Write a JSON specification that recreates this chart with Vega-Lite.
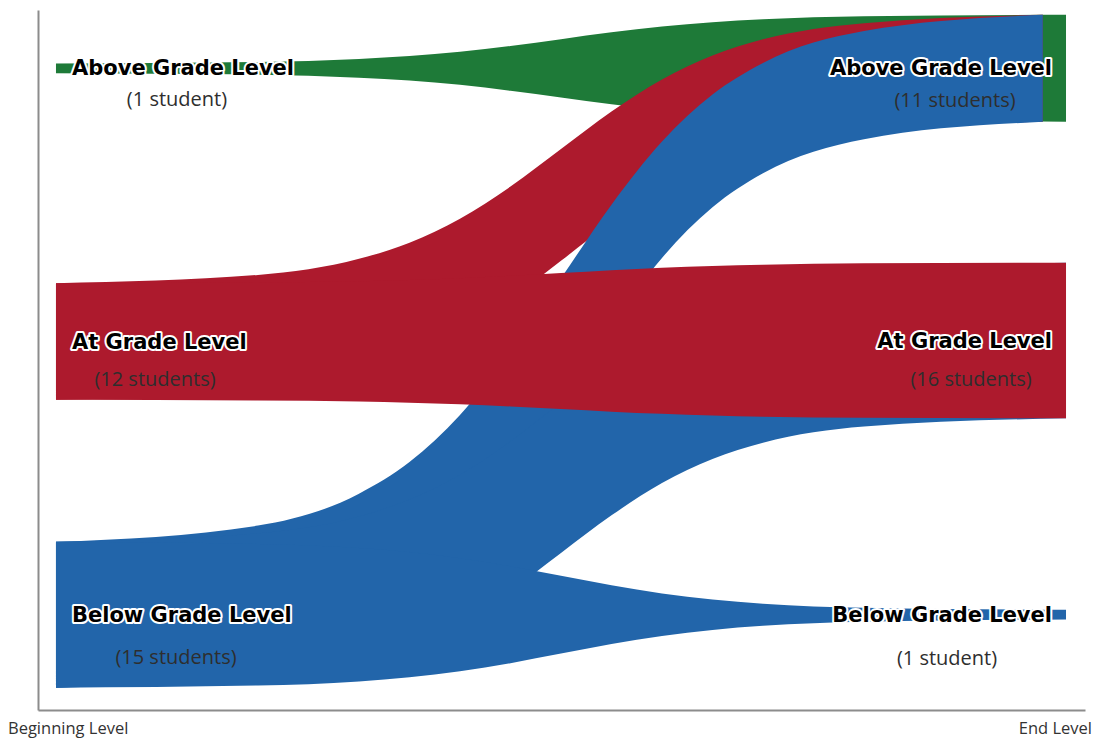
{
  "$schema": "https://vega.github.io/schema/vega-lite/v6.json",
  "width": 1047,
  "height": 700,
  "autosize": "none",
  "padding": {"left": 38, "top": 10, "right": 11, "bottom": 30},
  "background": "white",
  "config": {
    "view": {"stroke": null},
    "axis": {"title": null, "domain": true, "domainColor": "#8c8c8c", "domainWidth": 2, "ticks": false, "labels": false, "grid": false}
  },
  "datasets": {
    "flows": [
      {"flow": "AA", "x": 0, "top": 66.5, "bottom": 65.5},
      {"flow": "AA", "x": 0.2, "top": 66.65, "bottom": 65.35},
      {"flow": "AA", "x": 0.3, "top": 66.96, "bottom": 65.04},
      {"flow": "AA", "x": 0.35, "top": 67.26, "bottom": 64.74},
      {"flow": "AA", "x": 0.4, "top": 67.7, "bottom": 64.3},
      {"flow": "AA", "x": 0.45, "top": 68.3, "bottom": 63.7},
      {"flow": "AA", "x": 0.5, "top": 69.0, "bottom": 63.0},
      {"flow": "AA", "x": 0.55, "top": 69.7, "bottom": 62.3},
      {"flow": "AA", "x": 0.6, "top": 70.3, "bottom": 61.7},
      {"flow": "AA", "x": 0.65, "top": 70.74, "bottom": 61.26},
      {"flow": "AA", "x": 0.7, "top": 71.04, "bottom": 60.96},
      {"flow": "AA", "x": 0.8, "top": 71.35, "bottom": 60.65},
      {"flow": "AA", "x": 1, "top": 71.5, "bottom": 60.5},

      {"flow": "TA", "x": 0, "top": 43.9, "bottom": 31.9},
      {"flow": "TA", "x": 0.2, "top": 44.75, "bottom": 32.78},
      {"flow": "TA", "x": 0.3, "top": 46.41, "bottom": 34.51},
      {"flow": "TA", "x": 0.35, "top": 48.07, "bottom": 36.22},
      {"flow": "TA", "x": 0.4, "top": 50.54, "bottom": 38.78},
      {"flow": "TA", "x": 0.45, "top": 53.84, "bottom": 42.2},
      {"flow": "TA", "x": 0.5, "top": 57.7, "bottom": 46.2},
      {"flow": "TA", "x": 0.55, "top": 61.56, "bottom": 50.2},
      {"flow": "TA", "x": 0.6, "top": 64.86, "bottom": 53.62},
      {"flow": "TA", "x": 0.65, "top": 67.33, "bottom": 56.18},
      {"flow": "TA", "x": 0.7, "top": 68.99, "bottom": 57.9},
      {"flow": "TA", "x": 0.8, "top": 70.65, "bottom": 59.62},
      {"flow": "TA", "x": 0.977, "top": 71.5, "bottom": 60.5},

      {"flow": "BA", "x": 0, "top": 17.3, "bottom": 2.3},
      {"flow": "BA", "x": 0.2, "top": 18.97, "bottom": 4.09},
      {"flow": "BA", "x": 0.3, "top": 22.24, "bottom": 7.6},
      {"flow": "BA", "x": 0.35, "top": 25.5, "bottom": 11.1},
      {"flow": "BA", "x": 0.4, "top": 30.34, "bottom": 16.3},
      {"flow": "BA", "x": 0.45, "top": 36.82, "bottom": 23.26},
      {"flow": "BA", "x": 0.5, "top": 44.4, "bottom": 31.4},
      {"flow": "BA", "x": 0.55, "top": 51.98, "bottom": 39.54},
      {"flow": "BA", "x": 0.6, "top": 58.47, "bottom": 46.5},
      {"flow": "BA", "x": 0.65, "top": 63.31, "bottom": 51.7},
      {"flow": "BA", "x": 0.7, "top": 66.56, "bottom": 55.2},
      {"flow": "BA", "x": 0.8, "top": 69.83, "bottom": 58.71},
      {"flow": "BA", "x": 0.977, "top": 71.5, "bottom": 60.5},

      {"flow": "BT", "x": 0, "top": 17.3, "bottom": 2.3},
      {"flow": "BT", "x": 0.2, "top": 18.18, "bottom": 3.15},
      {"flow": "BT", "x": 0.3, "top": 19.91, "bottom": 4.82},
      {"flow": "BT", "x": 0.35, "top": 21.64, "bottom": 6.49},
      {"flow": "BT", "x": 0.4, "top": 24.2, "bottom": 8.96},
      {"flow": "BT", "x": 0.45, "top": 27.64, "bottom": 12.27},
      {"flow": "BT", "x": 0.5, "top": 31.65, "bottom": 16.15},
      {"flow": "BT", "x": 0.55, "top": 35.67, "bottom": 20.02},
      {"flow": "BT", "x": 0.6, "top": 39.1, "bottom": 23.34},
      {"flow": "BT", "x": 0.65, "top": 41.66, "bottom": 25.81},
      {"flow": "BT", "x": 0.7, "top": 43.39, "bottom": 27.48},
      {"flow": "BT", "x": 0.8, "top": 45.12, "bottom": 29.15},
      {"flow": "BT", "x": 1, "top": 46.0, "bottom": 30.0},

      {"flow": "BB", "x": 0, "top": 17.3, "bottom": 2.3},
      {"flow": "BB", "x": 0.2, "top": 17.08, "bottom": 2.52},
      {"flow": "BB", "x": 0.3, "top": 16.66, "bottom": 2.94},
      {"flow": "BB", "x": 0.35, "top": 16.24, "bottom": 3.36},
      {"flow": "BB", "x": 0.4, "top": 15.62, "bottom": 3.98},
      {"flow": "BB", "x": 0.45, "top": 14.78, "bottom": 4.82},
      {"flow": "BB", "x": 0.5, "top": 13.8, "bottom": 5.8},
      {"flow": "BB", "x": 0.55, "top": 12.82, "bottom": 6.78},
      {"flow": "BB", "x": 0.6, "top": 11.98, "bottom": 7.62},
      {"flow": "BB", "x": 0.65, "top": 11.36, "bottom": 8.24},
      {"flow": "BB", "x": 0.7, "top": 10.94, "bottom": 8.66},
      {"flow": "BB", "x": 0.8, "top": 10.52, "bottom": 9.08},
      {"flow": "BB", "x": 1, "top": 10.3, "bottom": 9.3},

      {"flow": "TT", "x": 0, "top": 43.9, "bottom": 31.9},
      {"flow": "TT", "x": 0.2, "top": 43.96, "bottom": 31.84},
      {"flow": "TT", "x": 0.3, "top": 44.09, "bottom": 31.73},
      {"flow": "TT", "x": 0.35, "top": 44.22, "bottom": 31.61},
      {"flow": "TT", "x": 0.4, "top": 44.41, "bottom": 31.44},
      {"flow": "TT", "x": 0.45, "top": 44.66, "bottom": 31.22},
      {"flow": "TT", "x": 0.5, "top": 44.95, "bottom": 30.95},
      {"flow": "TT", "x": 0.55, "top": 45.24, "bottom": 30.68},
      {"flow": "TT", "x": 0.6, "top": 45.5, "bottom": 30.46},
      {"flow": "TT", "x": 0.65, "top": 45.68, "bottom": 30.29},
      {"flow": "TT", "x": 0.7, "top": 45.81, "bottom": 30.17},
      {"flow": "TT", "x": 0.8, "top": 45.94, "bottom": 30.06},
      {"flow": "TT", "x": 1, "top": 46.0, "bottom": 30.0}
    ],
    "nodes": [
      {"side": "start", "x": 0, "level": "Above Grade Level", "students": 1, "mid": 66.0, "count": "(1 student)"},
      {"side": "start", "x": 0, "level": "At Grade Level", "students": 12, "mid": 37.9, "count": "(12 students)"},
      {"side": "start", "x": 0, "level": "Below Grade Level", "students": 15, "mid": 9.8, "count": "(15 students)"},
      {"side": "end", "x": 1, "level": "Above Grade Level", "students": 11, "mid": 66.0, "count": "(11 students)"},
      {"side": "end", "x": 1, "level": "At Grade Level", "students": 16, "mid": 38.0, "count": "(16 students)"},
      {"side": "end", "x": 1, "level": "Below Grade Level", "students": 1, "mid": 9.8, "count": "(1 student)"}
    ],
    "ends": [
      {"x": 0, "label": "Beginning Level"},
      {"x": 1, "label": "End Level"}
    ]
  },
  "encoding": {
    "x": {"field": "x", "type": "quantitative", "scale": {"domain": [-0.0178, 1.0188], "nice": false, "zero": false}, "axis": {"title": null}}
  },
  "layer": [
    {
      "data": {"name": "flows"},
      "transform": [{"filter": "datum.flow === 'AA'"}],
      "mark": {"type": "area", "interpolate": "monotone", "orient": "vertical", "color": "#1e7a38"},
      "encoding": {
        "y": {"field": "top", "type": "quantitative", "scale": {"domain": [0, 72], "nice": false, "zero": false}, "axis": {"title": null}},
        "y2": {"field": "bottom"}
      }
    },
    {
      "data": {"name": "flows"},
      "transform": [{"filter": "datum.flow === 'TA'"}],
      "mark": {"type": "area", "interpolate": "monotone", "orient": "vertical", "color": "#ad1a2d"},
      "encoding": {
        "y": {"field": "top", "type": "quantitative", "scale": {"domain": [0, 72], "nice": false, "zero": false}, "axis": {"title": null}},
        "y2": {"field": "bottom"}
      }
    },
    {
      "data": {"name": "flows"},
      "transform": [{"filter": "datum.flow === 'BA'"}],
      "mark": {"type": "area", "interpolate": "monotone", "orient": "vertical", "color": "#2265aa"},
      "encoding": {
        "y": {"field": "top", "type": "quantitative", "scale": {"domain": [0, 72], "nice": false, "zero": false}, "axis": {"title": null}},
        "y2": {"field": "bottom"}
      }
    },
    {
      "data": {"name": "flows"},
      "transform": [{"filter": "datum.flow === 'BT'"}],
      "mark": {"type": "area", "interpolate": "monotone", "orient": "vertical", "color": "#2265aa"},
      "encoding": {
        "y": {"field": "top", "type": "quantitative", "scale": {"domain": [0, 72], "nice": false, "zero": false}, "axis": {"title": null}},
        "y2": {"field": "bottom"}
      }
    },
    {
      "data": {"name": "flows"},
      "transform": [{"filter": "datum.flow === 'BB'"}],
      "mark": {"type": "area", "interpolate": "monotone", "orient": "vertical", "color": "#2265aa"},
      "encoding": {
        "y": {"field": "top", "type": "quantitative", "scale": {"domain": [0, 72], "nice": false, "zero": false}, "axis": {"title": null}},
        "y2": {"field": "bottom"}
      }
    },
    {
      "data": {"name": "flows"},
      "transform": [{"filter": "datum.flow === 'TT'"}],
      "mark": {"type": "area", "interpolate": "monotone", "orient": "vertical", "color": "#ad1a2d"},
      "encoding": {
        "y": {"field": "top", "type": "quantitative", "scale": {"domain": [0, 72], "nice": false, "zero": false}, "axis": {"title": null}},
        "y2": {"field": "bottom"}
      }
    },
    {
      "data": {"name": "nodes"},
      "transform": [{"filter": "datum.side === 'start'"}],
      "mark": {"type": "text", "align": "left", "baseline": "middle", "dx": 16, "dy": 1, "font": "DejaVu Sans", "fontWeight": "bold", "fontSize": 21, "color": "white", "stroke": "white", "strokeWidth": 4, "strokeJoin": "round"},
      "encoding": {
        "y": {"field": "mid", "type": "quantitative", "scale": {"domain": [0, 72], "nice": false, "zero": false}, "axis": {"title": null}},
        "text": {"field": "level"}
      }
    },
    {
      "data": {"name": "nodes"},
      "transform": [{"filter": "datum.side === 'start'"}],
      "mark": {"type": "text", "align": "left", "baseline": "middle", "dx": 16, "dy": 1, "font": "DejaVu Sans", "fontWeight": "bold", "fontSize": 21, "color": "black"},
      "encoding": {
        "y": {"field": "mid", "type": "quantitative", "scale": {"domain": [0, 72], "nice": false, "zero": false}, "axis": {"title": null}},
        "text": {"field": "level"}
      }
    },
    {
      "data": {"name": "nodes"},
      "transform": [{"filter": "datum.side === 'end'"}],
      "mark": {"type": "text", "align": "right", "baseline": "middle", "dx": -14, "dy": 1, "font": "DejaVu Sans", "fontWeight": "bold", "fontSize": 21, "color": "white", "stroke": "white", "strokeWidth": 4, "strokeJoin": "round"},
      "encoding": {
        "y": {"field": "mid", "type": "quantitative", "scale": {"domain": [0, 72], "nice": false, "zero": false}, "axis": {"title": null}},
        "text": {"field": "level"}
      }
    },
    {
      "data": {"name": "nodes"},
      "transform": [{"filter": "datum.side === 'end'"}],
      "mark": {"type": "text", "align": "right", "baseline": "middle", "dx": -14, "dy": 1, "font": "DejaVu Sans", "fontWeight": "bold", "fontSize": 21, "color": "black"},
      "encoding": {
        "y": {"field": "mid", "type": "quantitative", "scale": {"domain": [0, 72], "nice": false, "zero": false}, "axis": {"title": null}},
        "text": {"field": "level"}
      }
    },
    {
      "data": {"name": "nodes"},
      "transform": [{"filter": "datum.side === 'start' && datum.level === 'Above Grade Level'"}],
      "mark": {"type": "text", "align": "center", "baseline": "middle", "dx": 121, "dy": 31.5, "font": "Open Sans", "fontSize": 20, "color": "#2e2e2e"},
      "encoding": {
        "y": {"field": "mid", "type": "quantitative", "scale": {"domain": [0, 72], "nice": false, "zero": false}, "axis": {"title": null}},
        "text": {"field": "count"}
      }
    },
    {
      "data": {"name": "nodes"},
      "transform": [{"filter": "datum.side === 'start' && datum.level === 'At Grade Level'"}],
      "mark": {"type": "text", "align": "center", "baseline": "middle", "dx": 99, "dy": 38, "font": "Open Sans", "fontSize": 20, "color": "#2e2e2e"},
      "encoding": {
        "y": {"field": "mid", "type": "quantitative", "scale": {"domain": [0, 72], "nice": false, "zero": false}, "axis": {"title": null}},
        "text": {"field": "count"}
      }
    },
    {
      "data": {"name": "nodes"},
      "transform": [{"filter": "datum.side === 'start' && datum.level === 'Below Grade Level'"}],
      "mark": {"type": "text", "align": "center", "baseline": "middle", "dx": 120, "dy": 43, "font": "Open Sans", "fontSize": 20, "color": "#2e2e2e"},
      "encoding": {
        "y": {"field": "mid", "type": "quantitative", "scale": {"domain": [0, 72], "nice": false, "zero": false}, "axis": {"title": null}},
        "text": {"field": "count"}
      }
    },
    {
      "data": {"name": "nodes"},
      "transform": [{"filter": "datum.side === 'end' && datum.level === 'Above Grade Level'"}],
      "mark": {"type": "text", "align": "center", "baseline": "middle", "dx": -111, "dy": 33, "font": "Open Sans", "fontSize": 20, "color": "#2e2e2e"},
      "encoding": {
        "y": {"field": "mid", "type": "quantitative", "scale": {"domain": [0, 72], "nice": false, "zero": false}, "axis": {"title": null}},
        "text": {"field": "count"}
      }
    },
    {
      "data": {"name": "nodes"},
      "transform": [{"filter": "datum.side === 'end' && datum.level === 'At Grade Level'"}],
      "mark": {"type": "text", "align": "center", "baseline": "middle", "dx": -95, "dy": 39, "font": "Open Sans", "fontSize": 20, "color": "#2e2e2e"},
      "encoding": {
        "y": {"field": "mid", "type": "quantitative", "scale": {"domain": [0, 72], "nice": false, "zero": false}, "axis": {"title": null}},
        "text": {"field": "count"}
      }
    },
    {
      "data": {"name": "nodes"},
      "transform": [{"filter": "datum.side === 'end' && datum.level === 'Below Grade Level'"}],
      "mark": {"type": "text", "align": "center", "baseline": "middle", "dx": -119, "dy": 44, "font": "Open Sans", "fontSize": 20, "color": "#2e2e2e"},
      "encoding": {
        "y": {"field": "mid", "type": "quantitative", "scale": {"domain": [0, 72], "nice": false, "zero": false}, "axis": {"title": null}},
        "text": {"field": "count"}
      }
    },
    {
      "data": {"name": "ends"},
      "transform": [{"filter": "datum.x === 0"}],
      "mark": {"type": "text", "align": "left", "baseline": "alphabetic", "dx": -48, "dy": 24, "font": "Open Sans", "fontSize": 16.5, "color": "#333333"},
      "encoding": {
        "y": {"datum": 0, "type": "quantitative", "scale": {"domain": [0, 72], "nice": false, "zero": false}, "axis": {"title": null}},
        "text": {"field": "label"}
      }
    },
    {
      "data": {"name": "ends"},
      "transform": [{"filter": "datum.x === 1"}],
      "mark": {"type": "text", "align": "right", "baseline": "alphabetic", "dx": 26, "dy": 24, "font": "Open Sans", "fontSize": 16.5, "color": "#333333"},
      "encoding": {
        "y": {"datum": 0, "type": "quantitative", "scale": {"domain": [0, 72], "nice": false, "zero": false}, "axis": {"title": null}},
        "text": {"field": "label"}
      }
    }
  ]
}
